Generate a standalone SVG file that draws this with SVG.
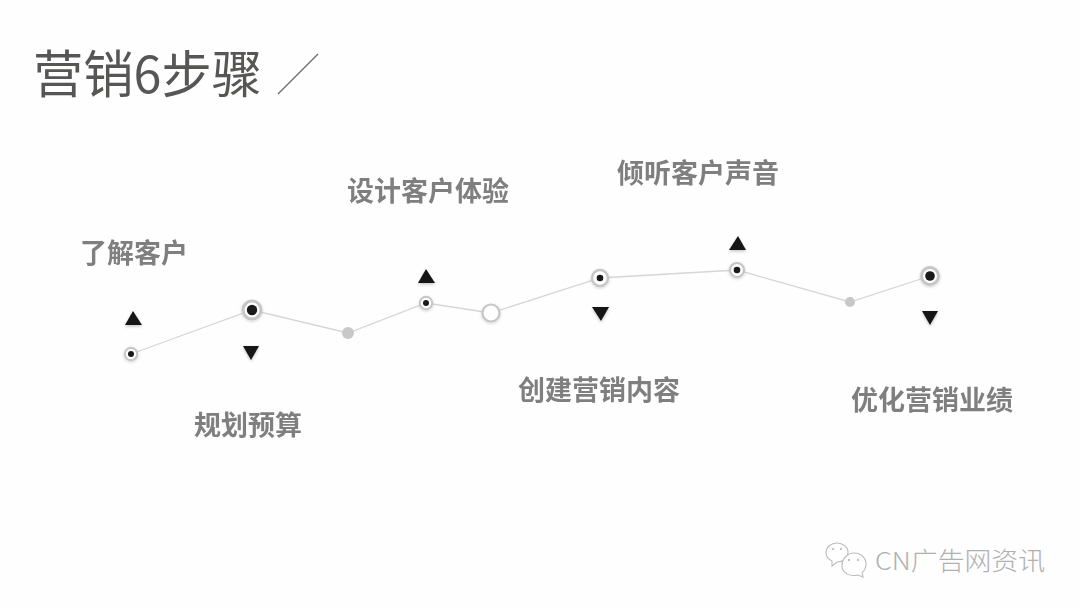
<svg xmlns="http://www.w3.org/2000/svg" width="1080" height="608" viewBox="0 0 1080 608">
<defs>
<filter id="soft" x="-60%" y="-60%" width="220%" height="220%"><feGaussianBlur stdDeviation="0.5"/></filter>
<filter id="glow" x="-60%" y="-60%" width="220%" height="220%"><feDropShadow dx="0" dy="1" stdDeviation="1.5" flood-color="#000" flood-opacity="0.18"/><feGaussianBlur stdDeviation="0.35"/></filter>
<filter id="sh" x="-50%" y="-50%" width="200%" height="200%"><feDropShadow dx="0" dy="1.5" stdDeviation="1.5" flood-color="#000" flood-opacity="0.22"/><feGaussianBlur stdDeviation="0.3"/></filter>
<filter id="txt" x="-5%" y="-5%" width="110%" height="110%"><feGaussianBlur stdDeviation="0.35"/></filter>
</defs>
<style>
text{font-family:"Noto Sans CJK SC","Noto Sans",sans-serif}
.title{font-size:51px;font-weight:400;fill:#575755;filter:url(#txt)}
.lab{font-size:27px;font-weight:700;fill:#7f7f7f;filter:url(#txt)}
.ring{fill:#fff;stroke:#c6c6c6;filter:url(#glow)}
.dot{fill:#1a1a1a}
.tri{fill:#141414;filter:url(#sh)}
.grey{fill:#c8c8c8;filter:url(#soft)}
.line{fill:none;stroke:#d6d6d6;stroke-width:1.3}
</style>
<rect width="1080" height="608" fill="#fefefe"/>
<g id="title">
<text class="title" x="33" y="93" textLength="229" lengthAdjust="spacingAndGlyphs">营销6步骤</text>
<path d="M278 94L318 54" stroke="#6a6a6a" stroke-width="1.3" fill="none"/>
</g>
<g id="connectors">
<polyline class="line" points="131,354 252,310 348,333 426,303 491,313 600,278 737,270 850,302 930,276"/>
</g>
<g id="node-1"><circle class="ring" cx="131" cy="354" r="6.2" stroke-width="2"/><circle class="dot" cx="131" cy="354" r="3"/><path class="tri" d="M133 311L142 325H125Z"/><text class="lab" x="80" y="263">了解客户</text></g>
<g id="node-2"><circle class="ring" cx="252" cy="310" r="9" stroke-width="3"/><circle class="dot" cx="252" cy="310" r="5.2"/><path class="tri" d="M243 346H259L251 360Z"/><text class="lab" x="194" y="435">规划预算</text></g>
<g id="node-3"><circle class="grey" cx="348" cy="333" r="6"/></g>
<g id="node-4"><circle class="ring" cx="426" cy="303" r="6.2" stroke-width="2"/><circle class="dot" cx="426" cy="303" r="3"/><path class="tri" d="M426 269L435 283H418Z"/><text class="lab" x="347" y="201">设计客户体验</text></g>
<g id="node-5"><circle class="ring" cx="491" cy="313" r="8.5" stroke-width="2.2"/></g>
<g id="node-6"><circle class="ring" cx="600" cy="278" r="8" stroke-width="2.4"/><circle class="dot" cx="600" cy="278" r="3.3"/><path class="tri" d="M592 307H609L601 321Z"/><text class="lab" x="518" y="400">创建营销内容</text></g>
<g id="node-7"><circle class="ring" cx="737" cy="270" r="7" stroke-width="2.2"/><circle class="dot" cx="737" cy="270" r="3.3"/><path class="tri" d="M738 236L746 250H729Z"/><text class="lab" x="617" y="183">倾听客户声音</text></g>
<g id="node-8"><circle class="grey" cx="850" cy="302" r="5"/></g>
<g id="node-9"><circle class="ring" cx="930" cy="276" r="8.5" stroke-width="3"/><circle class="dot" cx="930" cy="276" r="4.8"/><path class="tri" d="M922 311H938L930 325Z"/><text class="lab" x="851" y="410">优化营销业绩</text></g>
<g id="watermark">
<g fill="#fff" stroke="#bdbdbd" stroke-width="1.1">
<path d="M826 553C826 547 831 543 837 543C843 543 848 547 848 552C848 558 843 562 837 562L832 566L832 561C828 559 826 556 826 553Z"/>
<path d="M842 566C842 558 848 553 854 553C861 553 866 558 866 564C866 568 864 571 862 573L863 577L858 575C850 577 842 573 842 566Z"/>
</g>
<g fill="#c4c4c4"><circle cx="833" cy="549" r="1.2"/><circle cx="841" cy="549" r="1.2"/><circle cx="849" cy="560" r="1.2"/><circle cx="858" cy="560" r="1.2"/></g>
<text x="875" y="570" font-size="25" font-weight="300" fill="#b0b0b0" textLength="170" lengthAdjust="spacingAndGlyphs">CN广告网资讯</text>
</g>
</svg>
